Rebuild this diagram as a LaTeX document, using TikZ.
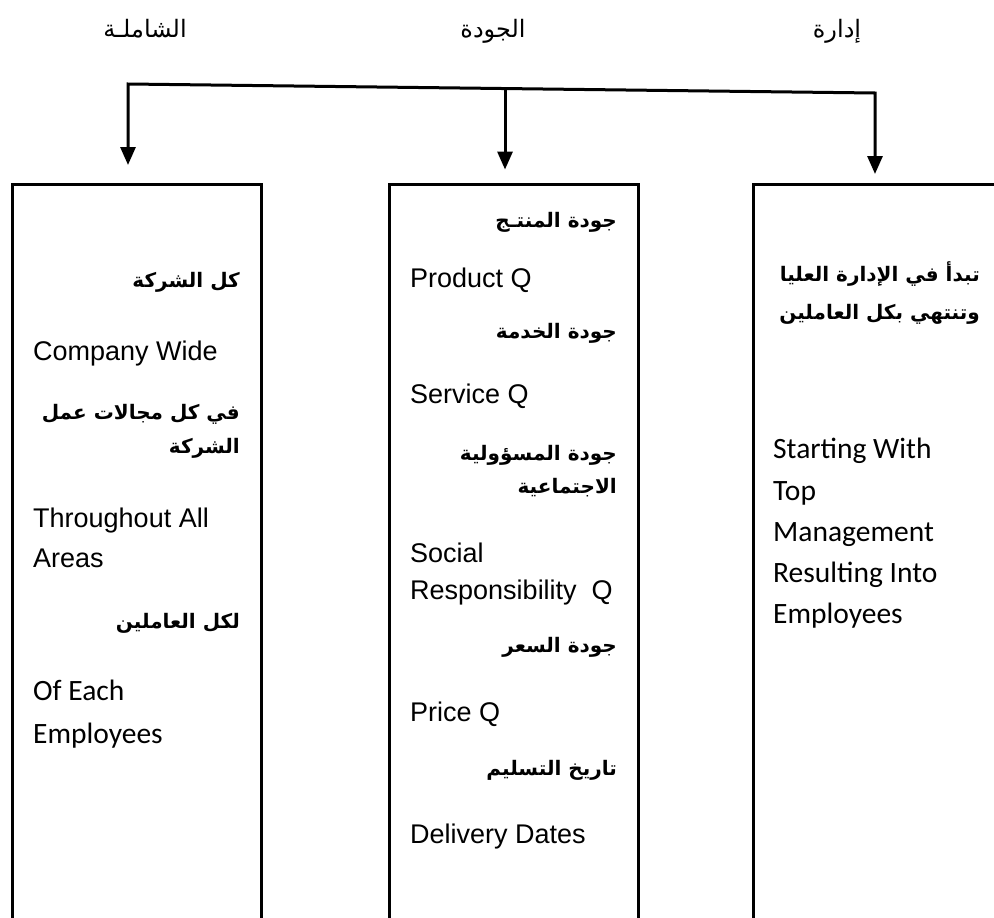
\documentclass[tikz,border=0pt]{standalone}
\usepackage{fontspec}
\setmainfont{Liberation Sans}
\newfontfamily\latf{Liberation Sans}
\newfontfamily\calf{Carlito}
\newfontfamily\arf[Script=Arabic]{DejaVu Sans}
\TeXXeTstate=1
\usetikzlibrary{arrows.meta,calc}
\newcommand\arline[1]{\beginR#1\endR}

\tikzset{
  lat/.style={anchor=base west, inner sep=0pt, font=\latf\fontsize{27}{32}\selectfont},
  cal/.style={anchor=base west, inner sep=0pt, font=\calf\fontsize{29.5}{35}\selectfont},
  arb/.style={anchor=base east, inner sep=0pt, font=\arf\bfseries\fontsize{20}{24}\selectfont},
  head/.style={anchor=base, inner sep=0pt, font=\arf\fontsize{24}{28}\selectfont},
  panel/.style={draw, line width=3pt, rectangle, inner sep=0pt, anchor=north west},
  bus/.style={line width=3pt, line join=miter,
    {Triangle[width=15pt,length=18pt]}-{Triangle[width=15pt,length=18pt]}},
  drop/.style={line width=3pt, -{Triangle[width=15pt,length=18pt]}}
}

\begin{document}
\begin{tikzpicture}[x=1pt,y=-1pt]
\useasboundingbox (0,0) rectangle (994,918);
\clip (0,0) rectangle (994,918);

% headings
\node[head] (h1) at (145,37) {\arline{الشاملـة}};
\node[head] (h2) at (493,37) {\arline{الجودة}};
\node[head] (h3) at (837,37) {\arline{إدارة}};

% the three panels
\node[panel, minimum width=249pt, minimum height=800pt] (lbox) at (11,183) {};
\node[panel, minimum width=249pt, minimum height=800pt] (mbox) at (388,183) {};
\node[panel, minimum width=300pt, minimum height=800pt] (rbox) at (752,183) {};

% distribution line and arrows
\coordinate (b1) at (128,84);
\coordinate (b3) at (875,93);
\coordinate (b2) at ($(b1)!0.5047!(b3)$);
\coordinate (t1) at ($(b1)+(0,81)$);
\coordinate (t2) at ($(b2)+(0,81)$);
\coordinate (t3) at ($(b3)+(0,81)$);
\draw[bus] (t1) -- (b1) -- (b3) -- (t3);
\draw[drop] (b2) -- (t2);

% left panel
\node[arb] (l1) at (240,287) {\arline{كل الشركة}};
\node[lat] (l2) at (33,360) {Company Wide};
\node[arb] (l3) at (240,419) {\arline{في كل مجالات عمل}};
\node[arb] (l4) at (240,453) {\arline{الشركة}};
\node[lat] (l5) at (33,527) {Throughout All};
\node[lat] (l6) at (33,567) {Areas};
\node[arb] (l7) at (240,628) {\arline{لكل العاملين}};
\node[cal] (l8) at (33,700) {Of Each};
\node[cal] (l9) at (33,743) {Employees};

% middle panel
\node[arb] (m1) at (617,227) {\arline{جودة المنتـج}};
\node[lat] (m2) at (410,287) {Product Q};
\node[arb] (m3) at (617,338) {\arline{جودة الخدمة}};
\node[lat] (m4) at (410,403) {Service Q};
\node[arb] (m5) at (617,460) {\arline{جودة المسؤولية}};
\node[arb] (m6) at (617,493) {\arline{الاجتماعية}};
\node[lat] (m7) at (410,562) {Social};
\node[lat] (m8) at (410,599) {Responsibility\ \ Q};
\node[arb] (m9) at (617,652) {\arline{جودة السعر}};
\node[lat] (m10) at (410,721) {Price Q};
\node[arb] (m11) at (617,775) {\arline{تاريخ التسليم}};
\node[lat] (m12) at (410,843) {Delivery Dates};

% right panel
\node[arb] (r1) at (980,281) {\arline{تبدأ في الإدارة العليا}};
\node[arb] (r2) at (980,319) {\arline{وتنتهي بكل العاملين}};
\node[cal] (r3) at (773,458) {Starting With};
\node[cal] (r4) at (773,500) {Top};
\node[cal] (r5) at (773,541) {Management};
\node[cal] (r6) at (773,582) {Resulting Into};
\node[cal] (r7) at (773,623) {Employees};
\end{tikzpicture}
\end{document}
